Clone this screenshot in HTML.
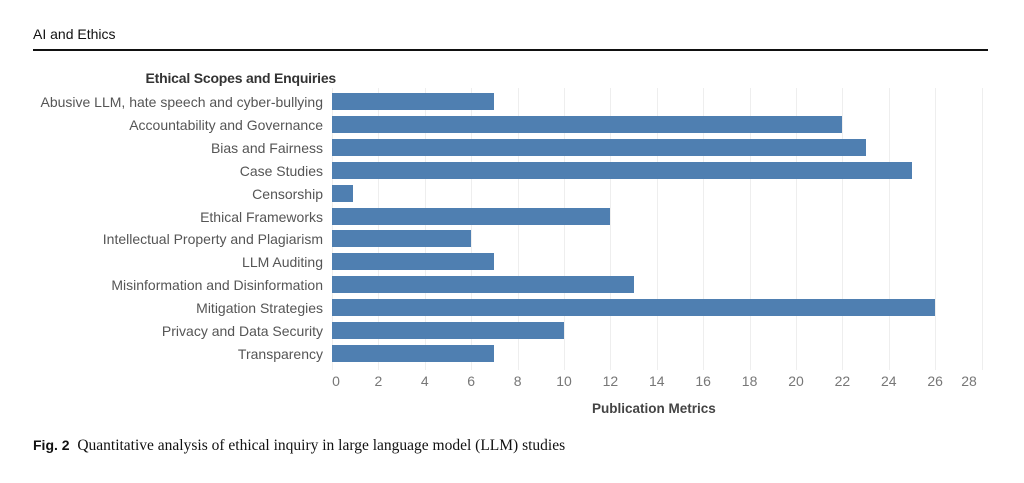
<!DOCTYPE html>
<html><head><style>
body{margin:0;width:1024px;height:483px;background:#fff;position:relative;overflow:hidden;font-family:"Liberation Sans",sans-serif}
.a{position:absolute}
.lab{position:absolute;right:701px;font-size:14px;color:#555;white-space:nowrap;line-height:16px}
.bar{position:absolute;left:332px;height:17px;background:#4f7fb1}
.g{position:absolute;top:88px;height:282px;width:1px;background:#eeeeee}
.t{position:absolute;top:373px;font-size:14px;color:#777;width:30px;text-align:center;margin-left:-15px}
</style></head><body>
<div class="a" style="left:33px;top:26px;font-size:14px;color:#111">AI and Ethics</div>
<div class="a" style="left:33px;top:49px;width:955px;height:2px;background:#111"></div>
<div class="a" style="right:688px;top:70px;font-size:14px;color:#333;font-weight:bold;letter-spacing:-0.2px">Ethical Scopes and Enquiries</div>
<div id="c"></div>
<div class="a" style="left:592px;top:401px;font-size:13.5px;color:#444;font-weight:bold">Publication Metrics</div>
<div class="a" style="left:33px;top:437px;font-size:15.5px;color:#111;font-family:'Liberation Serif',serif"><b style="font-family:'Liberation Sans',sans-serif;font-size:14px">Fig. 2</b>&nbsp; Quantitative analysis of ethical inquiry in large language model (LLM) studies</div>
<script>
var d=[["Abusive LLM, hate speech and cyber-bullying",7],["Accountability and Governance",22],["Bias and Fairness",23],["Case Studies",25],["Censorship",0.9],["Ethical Frameworks",12],["Intellectual Property and Plagiarism",6],["LLM Auditing",7],["Misinformation and Disinformation",13],["Mitigation Strategies",26],["Privacy and Data Security",10],["Transparency",7]];
var h="",u=23.2;
for(var k=0;k<=28;k+=2){var x=332+k*u;h+='<div class="g" style="left:'+x+'px"></div>';var lx=k==0?336:(k==28?969:x);h+='<div class="t" style="left:'+lx+'px">'+k+'</div>';}
d.forEach(function(r,i){var y=93+i*22.9;h+='<div class="bar" style="top:'+y+'px;width:'+(r[1]*u)+'px"></div><div class="lab" style="top:'+(y+1)+'px">'+r[0]+'</div>';});
document.getElementById("c").innerHTML=h;
</script>
</body></html>
